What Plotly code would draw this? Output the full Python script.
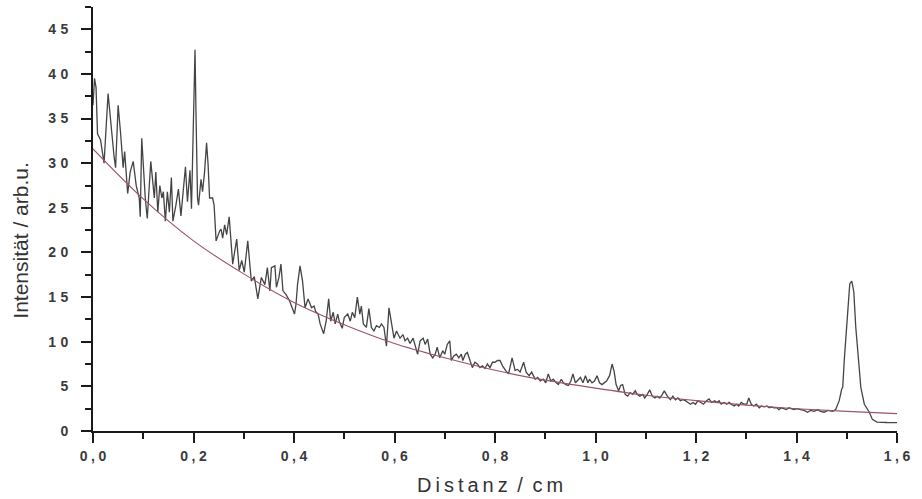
import plotly.graph_objects as go

dist_cm = [
    0.000, 0.003, 0.006, 0.009, 0.015, 0.022, 0.030, 0.036, 0.042, 0.045,
    0.050, 0.055, 0.060, 0.063, 0.066, 0.069, 0.074, 0.080, 0.086, 0.092,
    0.094, 0.097, 0.104, 0.108, 0.115, 0.122, 0.125, 0.129, 0.133, 0.137,
    0.140, 0.144, 0.148, 0.152, 0.156, 0.159, 0.165, 0.170, 0.175, 0.178,
    0.184, 0.188, 0.190, 0.193, 0.196, 0.198, 0.200, 0.203, 0.205, 0.208,
    0.210, 0.215, 0.218, 0.222, 0.226, 0.229, 0.232, 0.238, 0.241, 0.243,
    0.245, 0.252, 0.255, 0.258, 0.262, 0.266, 0.271, 0.278, 0.286, 0.291,
    0.296, 0.301, 0.308, 0.315, 0.321, 0.328, 0.335, 0.342, 0.347, 0.352,
    0.355, 0.362, 0.365, 0.370, 0.374, 0.378, 0.384, 0.391, 0.396, 0.401,
    0.404, 0.407, 0.412, 0.417, 0.422, 0.428, 0.435, 0.440, 0.443, 0.448,
    0.452, 0.459, 0.464, 0.469, 0.473, 0.478, 0.482, 0.487, 0.490, 0.496,
    0.500, 0.507, 0.512, 0.516, 0.521, 0.526, 0.531, 0.534, 0.538, 0.544,
    0.549, 0.554, 0.559, 0.564, 0.570, 0.574, 0.579, 0.584, 0.589, 0.594,
    0.599, 0.604, 0.611, 0.617, 0.621, 0.626, 0.631, 0.637, 0.641, 0.646,
    0.651, 0.657, 0.661, 0.666, 0.671, 0.676, 0.681, 0.685, 0.690, 0.696,
    0.700, 0.705, 0.710, 0.713, 0.718, 0.723, 0.728, 0.733, 0.736, 0.741,
    0.745, 0.750, 0.755, 0.760, 0.765, 0.770, 0.775, 0.780, 0.785, 0.790,
    0.795, 0.800, 0.805, 0.810, 0.815, 0.822, 0.827, 0.834, 0.840, 0.845,
    0.850, 0.857, 0.862, 0.868, 0.873, 0.880, 0.885, 0.890, 0.896, 0.901,
    0.906, 0.911, 0.916, 0.922, 0.926, 0.932, 0.936, 0.941, 0.946, 0.951,
    0.955, 0.960, 0.964, 0.970, 0.975, 0.980, 0.985, 0.988, 0.993, 0.998,
    1.003, 1.008, 1.013, 1.018, 1.022, 1.028, 1.033, 1.037, 1.041, 1.046,
    1.050, 1.054, 1.059, 1.064, 1.069, 1.074, 1.079, 1.083, 1.088, 1.094,
    1.098, 1.103, 1.108, 1.113, 1.118, 1.123, 1.128, 1.133, 1.137, 1.143,
    1.149, 1.154, 1.159, 1.164, 1.169, 1.174, 1.179, 1.184, 1.189, 1.194,
    1.199, 1.204, 1.209, 1.215, 1.221, 1.226, 1.231, 1.237, 1.242, 1.246,
    1.250, 1.256, 1.261, 1.266, 1.270, 1.276, 1.281, 1.285, 1.290, 1.296,
    1.301, 1.305, 1.310, 1.315, 1.320, 1.326, 1.330, 1.336, 1.341, 1.346,
    1.350, 1.355, 1.361, 1.365, 1.370, 1.375, 1.380, 1.385, 1.390, 1.395,
    1.400, 1.408, 1.415, 1.422, 1.428, 1.435, 1.442, 1.448, 1.455, 1.462,
    1.468, 1.472, 1.478, 1.485, 1.490, 1.492, 1.495, 1.502, 1.506, 1.510,
    1.514, 1.518, 1.523, 1.528, 1.535, 1.540, 1.545, 1.551, 1.560, 1.580,
    1.600,
]
intensity = [
    36.5, 39.5, 38.5, 33.3, 32.6, 30.0, 37.8, 34.0, 30.7, 29.5,
    36.5, 33.3, 29.5, 31.3, 28.4, 26.6, 29.0, 30.2, 27.5, 26.1,
    24.0, 32.8, 26.1, 23.8, 30.2, 26.1, 29.0, 24.5, 27.5, 26.1,
    26.8, 23.5, 26.8, 24.5, 28.4, 23.5, 25.3, 27.1, 24.1, 26.0,
    29.6, 25.7, 27.5, 29.2, 24.9, 29.9, 35.0, 42.7, 35.5, 26.1,
    25.3, 28.2, 26.8, 29.0, 32.3, 29.9, 26.1, 26.1, 25.3, 23.1,
    21.3, 22.4, 22.6, 21.6, 23.1, 22.0, 24.0, 18.7, 21.5, 18.0,
    19.1, 17.8, 21.3, 16.8, 17.3, 14.8, 17.2, 16.4, 18.3, 15.7,
    18.3, 18.5, 16.1, 17.2, 18.7, 15.7, 15.3, 14.6, 13.8, 13.1,
    14.2, 16.4, 18.5, 16.8, 13.8, 14.8, 13.8, 14.0, 13.4, 13.1,
    12.0, 10.9, 12.3, 14.8, 12.3, 13.3, 12.0, 13.1, 12.3, 11.5,
    12.7, 13.1, 12.3, 13.3, 12.7, 15.0, 13.1, 14.0, 12.0, 11.6,
    13.7, 11.6, 11.2, 11.8, 11.6, 12.0, 11.6, 9.5, 13.8, 12.3,
    10.4, 11.2, 10.4, 10.8, 10.1, 10.4, 9.8, 10.4, 9.7, 8.6,
    10.1, 10.4, 9.7, 10.3, 8.6, 8.2, 8.6, 9.4, 8.2, 9.0,
    8.6, 9.7, 10.1, 7.9, 8.4, 8.6, 8.2, 8.6, 7.9, 8.6,
    8.8, 7.9, 7.1, 7.7, 7.5, 7.1, 7.3, 7.0, 7.5, 7.1,
    7.7, 7.7, 7.9, 7.9, 7.3, 6.7, 6.4, 8.2, 6.8, 6.9,
    6.6, 7.7, 6.6, 6.2, 6.6, 5.8, 6.0, 5.6, 5.8, 5.4,
    6.4, 5.6, 5.8, 5.4, 5.2, 5.8, 5.4, 5.2, 5.1, 5.6,
    6.4, 5.4, 5.6, 6.0, 5.4, 6.2, 5.4, 5.8, 5.4, 5.6,
    6.2, 5.4, 5.2, 5.4, 5.6, 6.2, 7.5, 6.7, 5.2, 4.5,
    5.1, 5.2, 4.1, 3.9, 4.3, 4.1, 4.5, 4.1, 3.9, 4.1,
    3.7, 4.1, 4.6, 3.9, 3.7, 3.9, 3.7, 4.1, 4.5, 3.9,
    3.5, 3.9, 3.5, 3.7, 3.4, 3.5, 3.4, 3.2, 3.0, 3.2,
    3.0, 3.4, 3.2, 3.0, 3.4, 3.6, 3.2, 3.4, 3.2, 3.4,
    3.0, 3.2, 3.0, 3.2, 3.0, 2.8, 3.0, 2.8, 3.2, 3.0,
    3.0, 3.7, 3.0, 2.8, 3.0, 2.6, 2.8, 2.7, 2.8, 2.6,
    2.7, 2.6, 2.6, 2.4, 2.6, 2.5, 2.4, 2.6, 2.5, 2.4,
    2.5, 2.4, 2.3, 2.1, 2.3, 2.2, 2.4, 2.2, 2.1, 2.3,
    2.2, 2.2, 2.4, 3.4, 4.7, 4.9, 7.9, 13.5, 16.5, 16.8,
    15.6, 11.6, 7.9, 4.9, 3.0, 2.6, 2.1, 1.3, 1.0, 0.95,
    0.93,
]

# ---- fitted decay curve ----
fit_cm = [0.0, 0.1, 0.2, 0.3, 0.4, 0.5, 0.6, 0.7, 0.8, 0.9, 1.0, 1.1, 1.2, 1.3, 1.4, 1.5, 1.6]
fit_val = [31.6, 26.0, 21.3, 17.6, 14.4, 11.9, 9.8, 8.2, 6.8, 5.7, 4.8, 4.0, 3.4, 2.9, 2.5, 2.2, 1.95]

# ---- tick labels ----
x_tick_vals = [0.0, 0.2, 0.4, 0.6, 0.8, 1.0, 1.2, 1.4, 1.6]
x_tick_text = ["0\u2005,\u20050", "0\u2005,\u20052", "0\u2005,\u20054", "0\u2005,\u20056",
               "0\u2005,\u20058", "1\u2005,\u20050", "1\u2005,\u20052", "1\u2005,\u20054",
               "1\u2005,\u20056"]
y_tick_vals = [0, 5, 10, 15, 20, 25, 30, 35, 40, 45]
y_tick_text = ["0", "5", "1\u20040", "1\u20045", "2\u20040", "2\u20045",
               "3\u20040", "3\u20045", "4\u20040", "4\u20045"]

x_title = "D\u2009i\u2009s\u2009t\u2009a\u2009n\u2009z\u2009 /\u2009 c\u2009m"
y_title = "Intensität / arb.u."

FONT = "Liberation Sans, Arial, sans-serif"

fig = go.Figure()
fig.add_trace(go.Scatter(
    x=dist_cm, y=intensity, mode="lines",
    line=dict(color="#444444", width=1.3),
    showlegend=False, hoverinfo="skip",
))
fig.add_trace(go.Scatter(
    x=fit_cm, y=fit_val, mode="lines",
    line=dict(color="#9a5462", width=1.1, shape="spline", smoothing=1.0),
    showlegend=False, hoverinfo="skip",
))

axis_common = dict(
    showgrid=False, zeroline=False, showline=True, linecolor="#1a1a1a", linewidth=1.6,
    ticks="outside", tickcolor="#1a1a1a", tickwidth=1.6, ticklen=10,
    mirror=False, automargin=False,
)

fig.update_xaxes(
    range=[0, 1.6], tickmode="array", tickvals=x_tick_vals, ticktext=x_tick_text,
    tickfont=dict(family=FONT, size=14, color="#3a3a3a", weight="bold"),
    minor=dict(dtick=0.1, ticklen=6, tickcolor="#1a1a1a", tickwidth=1.6, ticks="outside"),
    ticklabelstandoff=1,
    **axis_common,
)
fig.update_yaxes(
    range=[0, 47.5], tickmode="array", tickvals=y_tick_vals, ticktext=y_tick_text,
    tickfont=dict(family=FONT, size=14, color="#3a3a3a", weight="bold"),
    minor=dict(dtick=2.5, ticklen=6, tickcolor="#1a1a1a", tickwidth=1.6, ticks="outside"),
    ticklabelstandoff=10,
    **axis_common,
)

fig.update_layout(
    width=922, height=499,
    margin=dict(l=93, r=25, t=7, b=68),
    plot_bgcolor="white", paper_bgcolor="white",
    font=dict(family=FONT, color="#333333"),
    annotations=[
        dict(text=x_title, xref="paper", yref="paper", x=0.494, y=-0.127,
             xanchor="center", yanchor="middle", showarrow=False,
             font=dict(family=FONT, size=20, color="#333333")),
        dict(text=y_title, xref="paper", yref="paper", x=-0.0902, y=0.45,
             xanchor="center", yanchor="middle", textangle=-90, showarrow=False,
             font=dict(family=FONT, size=21, color="#333333")),
    ],
)

fig.write_html(
    "out.html",
    config={"displayModeBar": False},
    post_script="document.body.style.margin='0';document.body.style.overflow='hidden';",
)
